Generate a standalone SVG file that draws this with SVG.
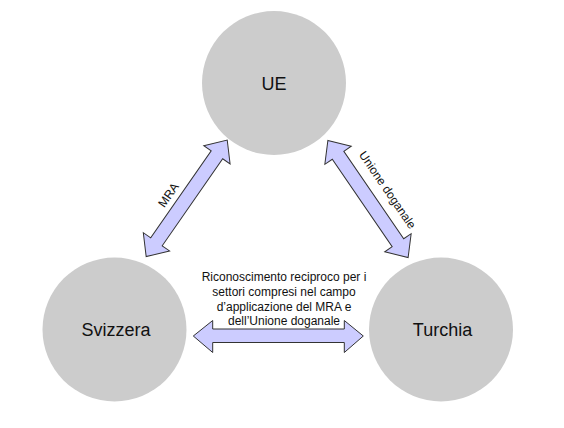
<svg xmlns="http://www.w3.org/2000/svg" width="564" height="428" viewBox="0 0 564 428">
<defs>
<style>
.node{fill:#cccccc;}
.nlabel{font-family:"Liberation Sans",Arial,sans-serif;font-size:18px;fill:#111;text-anchor:middle;}
.arrow{fill:#ccccff;stroke:#333;stroke-width:1;stroke-linejoin:miter;}
.elabel{font-family:"Liberation Sans",Arial,sans-serif;font-size:12px;fill:#111;text-anchor:middle;}
</style>
<path id="diag" d="M -71,0 L -53,-16 L -53,-7 L 53,-7 L 53,-16 L 71,0 L 53,16 L 53,7 L -53,7 L -53,16 Z"/>
</defs>
<rect width="564" height="428" fill="#ffffff"/>
<g id="node-ue">
<circle class="node" cx="274" cy="83" r="72"/>
<text class="nlabel" x="274" y="89.5">UE</text>
</g>
<g id="node-svizzera">
<circle class="node" cx="114.5" cy="329.5" r="72"/>
<text class="nlabel" x="116" y="336">Svizzera</text>
</g>
<g id="node-turchia">
<circle class="node" cx="441" cy="329.5" r="72"/>
<text class="nlabel" x="442.5" y="335.5">Turchia</text>
</g>
<g id="connectors">
<use href="#diag" class="arrow" transform="translate(186.7,198.3) rotate(-55.2)"/>
<use href="#diag" class="arrow" transform="translate(368,199) rotate(55.6)"/>
<path class="arrow" d="M 193.3,336 L 212.7,320.5 L 212.7,329 L 344.3,329 L 344.3,320.5 L 363.3,336 L 344.3,352.5 L 344.3,342.5 L 212.7,342.5 L 212.7,352.5 Z"/>
<text class="elabel" transform="translate(168.5,195) rotate(-55.2)" y="4">MRA</text>
<text class="elabel" transform="translate(387.5,190) rotate(55.6)" y="4">Unione doganale</text>
<text class="elabel" x="284" y="280.5">Riconoscimento reciproco per i</text>
<text class="elabel" x="284" y="295.5">settori compresi nel campo</text>
<text class="elabel" x="284" y="310.5">d’applicazione del MRA e</text>
<text class="elabel" x="284" y="325">dell’Unione doganale</text>
</g>
</svg>
